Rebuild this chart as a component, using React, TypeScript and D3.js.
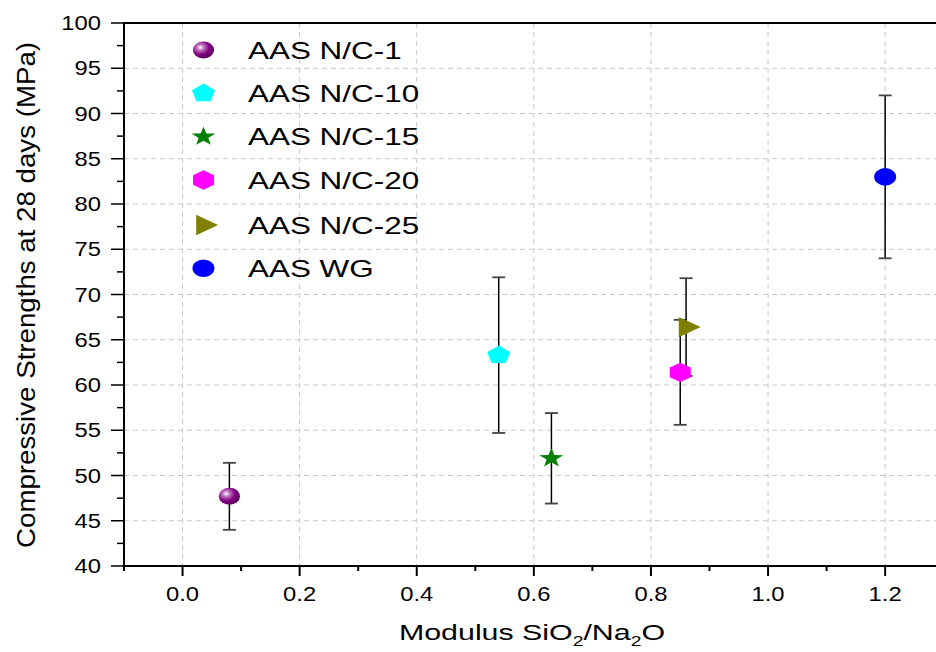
import React from 'react';
import * as d3 from 'd3';

const series = ['AAS N/C-1', 'AAS N/C-10', 'AAS N/C-15', 'AAS N/C-20', 'AAS N/C-25', 'AAS WG'];
const modulus = [0.08, 0.54, 0.63, 0.85, 0.86, 1.2];
const strength = [47.7, 63.3, 51.9, 61.4, 66.4, 83.0];
const errors = [3.7, 8.6, 5.0, 5.8, 5.4, 9.0];
const colors = ['#800080', '#00ffff', '#008000', '#ff00ff', '#808000', '#0000ff'];
const shapes = ['sphere', 'pentagon', 'star', 'hexagon', 'triangle', 'circle'];

const xMajor = [0, 0.2, 0.4, 0.6, 0.8, 1.0, 1.2];
const xMinor = [-0.1, 0.1, 0.3, 0.5, 0.7, 0.9, 1.1];
const yMajor = [40, 45, 50, 55, 60, 65, 70, 75, 80, 85, 90, 95, 100];
const yMinor = [42.5, 47.5, 52.5, 57.5, 62.5, 67.5, 72.5, 77.5, 82.5, 87.5, 92.5, 97.5];

const W = 936;
const H = 652;
const left = 124;
const top = 23;
const bottom = 566;
const SX = 1.25; // the picture is stretched sideways

const x = d3.scaleLinear().domain([-0.1, 1.3]).range([left, left + 1.4 * 585.5]);
const y = d3.scaleLinear().domain([40, 100]).range([bottom, top]);

const font = 'Arial, "Liberation Sans", sans-serif';

// polygon helper for marker glyphs
const poly = (n: number, r: number, rot: number) =>
  d3.range(n).map((i) => {
    const a = rot + (i * 2 * Math.PI) / n;
    return [Math.cos(a) * r, Math.sin(a) * r] as [number, number];
  });

const starPts = (r: number) =>
  d3.range(10).map((i) => {
    const a = -Math.PI / 2 + (i * Math.PI) / 5;
    const rr = i % 2 === 0 ? r : r * 0.4;
    return [Math.cos(a) * rr, Math.sin(a) * rr] as [number, number];
  });

const closed = (pts: [number, number][]) => d3.line().curve(d3.curveLinearClosed)(pts) || '';

function Marker({ shape, color, cx, cy }: { shape: string; color: string; cx: number; cy: number }) {
  const t = `translate(${cx},${cy}) scale(${SX},1)`;
  if (shape === 'sphere') {
    return (
      <g transform={t}>
        <circle r={8.5} fill="url(#sphere)" />
      </g>
    );
  }
  if (shape === 'circle') {
    return (
      <g transform={t}>
        <circle r={8.8} fill={color} />
      </g>
    );
  }
  let d = '';
  if (shape === 'pentagon') d = closed(poly(5, 9.7, -Math.PI / 2));
  if (shape === 'star') d = closed(starPts(10));
  if (shape === 'hexagon') d = closed(poly(6, 9.7, -Math.PI / 2));
  if (shape === 'triangle') d = closed(poly(3, 11.7, 0));
  return (
    <g transform={t}>
      <path d={d} fill={color} />
    </g>
  );
}

function SText({ x0, y0, size, anchor, sx, children }: any) {
  return (
    <text
      transform={`translate(${x0},${y0}) scale(${sx},1)`}
      fontSize={size}
      fontFamily={font}
      textAnchor={anchor}
      fill="#000"
    >
      {children}
    </text>
  );
}

export default function App() {
  const legendY = [50, 93.3, 136.7, 180, 225, 268.3];
  return (
    <svg width={W} height={H} style={{ position: 'absolute', left: 0, top: 0, background: '#fff' }}>
      <defs>
        <radialGradient id="sphere" cx="0.35" cy="0.35" r="0.7">
          <stop offset="0" stopColor="#ffffff" />
          <stop offset="0.25" stopColor="#c070c0" />
          <stop offset="0.6" stopColor="#800080" />
          <stop offset="1" stopColor="#5a005a" />
        </radialGradient>
      </defs>
      <rect width={W} height={H} fill="#fff" />

      {/* grid */}
      {yMajor.slice(1, -1).map((v) => (
        <line key={'gy' + v} x1={left} x2={W} y1={y(v)} y2={y(v)} stroke="#c8c8c8" strokeDasharray="5,4" />
      ))}
      {xMajor.map((v) => (
        <line key={'gx' + v} x1={x(v)} x2={x(v)} y1={top} y2={bottom} stroke="#c8c8c8" strokeDasharray="5,4" />
      ))}

      {/* frame */}
      <line x1={left} x2={W} y1={top} y2={top} stroke="#000" strokeWidth={2} />
      <line x1={left} x2={W} y1={bottom} y2={bottom} stroke="#000" strokeWidth={2} />
      <line x1={left} x2={left} y1={top - 1} y2={bottom + 1} stroke="#000" strokeWidth={2} />

      {/* y ticks */}
      {yMajor.map((v) => (
        <g key={'yt' + v}>
          <line x1={left - 13} x2={left} y1={y(v)} y2={y(v)} stroke="#000" strokeWidth={1.5} />
          <SText x0={101} y0={y(v) + 7} size={19.5} anchor="end" sx={1.22}>
            {v}
          </SText>
        </g>
      ))}
      {yMinor.map((v) => (
        <line key={'ym' + v} x1={left - 7} x2={left} y1={y(v)} y2={y(v)} stroke="#000" strokeWidth={1.5} />
      ))}

      {/* x ticks */}
      {xMajor.map((v) => (
        <g key={'xt' + v}>
          <line x1={x(v)} x2={x(v)} y1={bottom} y2={bottom + 10} stroke="#000" strokeWidth={2} />
          <SText x0={x(v)} y0={601} size={19.5} anchor="middle" sx={1.22}>
            {d3.format('.1f')(v)}
          </SText>
        </g>
      ))}
      {xMinor.map((v) => (
        <line key={'xm' + v} x1={x(v)} x2={x(v)} y1={bottom} y2={bottom + 5} stroke="#000" strokeWidth={2} />
      ))}

      {/* axis titles */}
      <text
        transform={`translate(532,640) scale(1.38,1)`}
        fontSize={22}
        fontFamily={font}
        textAnchor="middle"
      >
        Modulus SiO
        <tspan fontSize={14} dy={6}>2</tspan>
        <tspan dy={-6}>/Na</tspan>
        <tspan fontSize={14} dy={6}>2</tspan>
        <tspan dy={-6}>O</tspan>
      </text>
      <text
        transform={`translate(35,295) rotate(-90)`}
        fontSize={26}
        fontFamily={font}
        textAnchor="middle"
        textLength={506}
        lengthAdjust="spacingAndGlyphs"
      >
        Compressive Strengths at 28 days (MPa)
      </text>

      {/* error bars */}
      {series.map((s, i) => {
        const cx = x(modulus[i]);
        const y1 = y(strength[i] + errors[i]);
        const y2 = y(strength[i] - errors[i]);
        return (
          <g key={'eb' + s}>
            <line x1={cx} x2={cx} y1={y1} y2={y2} stroke="#000" strokeWidth={1.5} />
            <line x1={cx - 6.5} x2={cx + 6.5} y1={y1} y2={y1} stroke="#444" strokeWidth={1.8} />
            <line x1={cx - 6.5} x2={cx + 6.5} y1={y2} y2={y2} stroke="#444" strokeWidth={1.8} />
          </g>
        );
      })}

      {/* points */}
      {series.map((s, i) => (
        <Marker key={'pt' + s} shape={shapes[i]} color={colors[i]} cx={x(modulus[i])} cy={y(strength[i])} />
      ))}

      {/* legend */}
      {series.map((s, i) => (
        <g key={'lg' + s}>
          <Marker shape={shapes[i]} color={colors[i]} cx={203.5} cy={legendY[i]} />
          <SText x0={248} y0={legendY[i] + 8.5} size={24} anchor="start" sx={1.31}>
            {s}
          </SText>
        </g>
      ))}
    </svg>
  );
}
